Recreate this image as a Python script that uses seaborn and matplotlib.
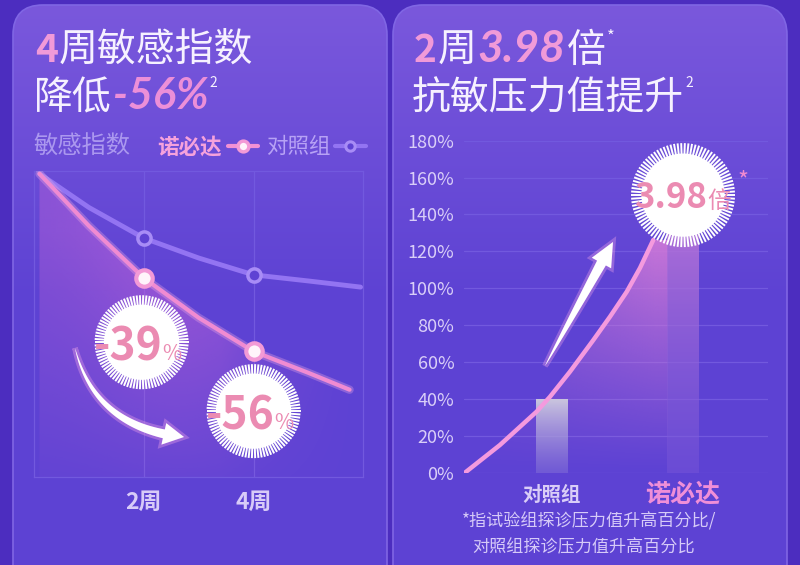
import numpy as np
import pandas as pd
import matplotlib
matplotlib.use("Agg")
import matplotlib.pyplot as plt
import seaborn as sns
from matplotlib.patches import FancyBboxPatch, Circle, Polygon
from matplotlib.collections import LineCollection
from matplotlib.colors import to_rgb

# 左图：敏感指数（读图估计，0-100 指数）
weeks_nbd = [0.1, 1, 2, 3, 4, 5, 5.75]
index_nbd = [99, 82, 65, 52, 41, 34, 28.5]
weeks_ctrl = [0.1, 1, 2, 3, 4, 5, 5.95]
index_ctrl = [99, 88, 78, 71.5, 66, 64, 62]
marker_weeks = [2, 4]
week_ticks = [2, 4]
week_labels = ["2周", "4周"]
drop_labels = ["-39", "-56"]
drop_pos = [(1.96, 44), (4.0, 21.5)]

# 右图：抗敏压力值提升
groups = ["对照组", "诺必达"]
rise_pct = [40, 159]
trend_x = [-0.658, -0.392, -0.113, -0.011, 0.141, 0.318, 0.445, 0.572, 0.673, 0.774]
trend_y = [0, 15, 33.1, 41.2, 54.8, 71.9, 84.6, 98.1, 111, 126.2]
pct_ticks = list(range(0, 181, 20))

sns.set_theme(style="white")
plt.rcParams['font.family'] = ['Noto Sans CJK SC', 'DejaVu Sans']

W, H = 800, 565
fig = plt.figure(figsize=(W / 100, H / 100), dpi=100)
fig.patch.set_facecolor('#4c2dbf')

bg = fig.add_axes([0, 0, 1, 1], zorder=0)
bg.set_xlim(0, W); bg.set_ylim(H, 0); bg.axis('off')

ov = fig.add_axes([0, 0, 1, 1], zorder=10)
ov.set_xlim(0, W); ov.set_ylim(H, 0); ov.axis('off')
ov.patch.set_alpha(0)


def px_axes(x0, y0, x1, y1, z):
    a = fig.add_axes([x0 / W, 1 - y1 / H, (x1 - x0) / W, (y1 - y0) / H], zorder=z)
    a.patch.set_alpha(0)
    return a


def vgrad(top, bottom, a_top, a_bot, n=200):
    t = np.linspace(0, 1, n)[:, None]
    img = np.zeros((n, 1, 4))
    img[..., :3] = (1 - t)[..., None] * np.array(to_rgb(top)) + t[..., None] * np.array(to_rgb(bottom))
    img[..., 3] = (1 - t) * a_top + t * a_bot
    return img


# 背景面板
for x0, x1 in [(13, 387), (393, 787)]:
    box = FancyBboxPatch((x0, 5), x1 - x0, 640, boxstyle="round,pad=0,rounding_size=30",
                         facecolor='none', edgecolor='#8066e4', lw=1.2, zorder=2)
    bg.add_patch(box)
    g = vgrad('#7a58dc', '#5d42d3', 1, 1)
    im = bg.imshow(g, extent=(x0, x1, 300, 5), origin='upper', aspect='auto', zorder=1)
    im.set_clip_path(box)
    low = FancyBboxPatch((x0, 5), x1 - x0, 640, boxstyle="round,pad=0,rounding_size=30",
                         facecolor='#5d42d3', edgecolor='none', zorder=0.5)
    bg.add_patch(low)
bg.set_xlim(0, W); bg.set_ylim(H, 0)

# ---------------- 左图 ----------------
axl = px_axes(34, 170.7, 363.3, 477, 2)
axl.set_xlim(0, 6); axl.set_ylim(0, 100)
for s in axl.spines.values():
    s.set_color('#7259de'); s.set_linewidth(0.9)
for xv in week_ticks:
    axl.axvline(xv, color='#7259de', lw=0.9, zorder=0)

gx = np.linspace(0, 6, 300); gy = np.linspace(0, 100, 200)
GX, GY = np.meshgrid(gx, gy)
hx = np.clip(0.55 + 0.45 * np.exp(-((GX - 2.6) / 1.6) ** 2), 0, 1) * np.clip((5.9 - GX) / 2.5, 0, 1)
alpha = 0.75 * hx * np.clip(0.15 + 0.85 * GY / 80, 0, 1)
img = np.zeros((200, 300, 4)); img[..., :3] = to_rgb('#b861d8'); img[..., 3] = alpha
im = axl.imshow(img, extent=(0, 6, 0, 100), origin='lower', aspect='auto', zorder=1)
clip = Polygon(list(zip(weeks_nbd, index_nbd)) + [(weeks_nbd[-1], 0), (weeks_nbd[0], 0)],
               closed=True, transform=axl.transData, facecolor='none', edgecolor='none')
axl.add_patch(clip); im.set_clip_path(clip)

df_nbd = pd.DataFrame({'week': weeks_nbd, 'index': index_nbd})
df_ctrl = pd.DataFrame({'week': weeks_ctrl, 'index': index_ctrl})
sns.lineplot(data=df_ctrl, x='week', y='index', color='#9374f2', lw=3.5, ax=axl, zorder=3)
sns.lineplot(data=df_nbd, x='week', y='index', color='#f7b0e4', lw=6, alpha=0.3, ax=axl, zorder=3)
sns.lineplot(data=df_nbd, x='week', y='index', color='#f08bd2', lw=3, ax=axl, zorder=4)
sns.scatterplot(data=df_ctrl[df_ctrl.week.isin(marker_weeks)], x='week', y='index', s=90,
                color='#5f42d3', edgecolor='#a88cf6', linewidth=2.5, ax=axl, zorder=5)
sns.scatterplot(data=df_nbd[df_nbd.week.isin(marker_weeks)], x='week', y='index', s=140,
                color='#fff4fb', edgecolor='#f39ad6', linewidth=3, ax=axl, zorder=5)
axl.set_xlim(0, 6); axl.set_ylim(0, 100)
axl.set_xticks(week_ticks, week_labels)
axl.set_yticks([])
axl.set_xlabel(''); axl.set_ylabel('')
axl.tick_params(axis='x', length=0, pad=18, labelsize=16.5, labelcolor='#d8cbf8')
for t in axl.get_xticklabels():
    t.set_fontweight('bold'); t.set_va('center')

# ---------------- 右图 ----------------
axr = px_axes(464, 140.7, 768, 472.7, 2)
sns.barplot(x=groups, y=rise_pct, width=0.236, ax=axr, color='#cccccc', zorder=3)
axr.set_xlim(-0.665, 1.646); axr.set_ylim(0, 180)
for s in axr.spines.values():
    s.set_visible(False)
axr.set_yticks(pct_ticks, [f"{v}%" for v in pct_ticks])
axr.yaxis.grid(True, color='#7259de', lw=0.9)
axr.set_axisbelow(True)
axr.tick_params(axis='y', length=0, pad=7, labelsize=13, labelcolor='#d9cef8')
for t in axr.get_yticklabels():
    t.set_fontweight('light')
axr.tick_params(axis='x', length=0, pad=16)
xl = axr.get_xticklabels()
for t, c, fs in zip(xl, ['#d9cdf7', '#f08fd8'], [14, 18]):
    t.set_color(c); t.set_fontsize(fs); t.set_fontweight('bold'); t.set_va('center')

bar_styles = [('#cbc6df', '#8f7dd9', 1.0, 0.4), ('#c47ad8', '#7b58d9', 0.95, 0.45)]
for p, (ct, cb, at, ab) in zip(axr.patches, bar_styles):
    x, y = p.get_x(), p.get_y()
    w, h = p.get_width(), p.get_height()
    gimg = axr.imshow(vgrad(ct, cb, at, ab), extent=(x, x + w, y, y + h), origin='upper',
                      aspect='auto', zorder=3)
    gimg.set_clip_path(p)
    p.set_facecolor('none'); p.set_edgecolor('none')

# 趋势线下方渐变
gx = np.linspace(-0.665, 1.0, 300); gy = np.linspace(0, 130, 200)
GX, GY = np.meshgrid(gx, gy)
alpha = np.clip(GY / 126, 0, 1) ** 1.1 * 0.9 * np.clip(0.4 + 0.6 * (GX + 0.665) / 1.45, 0, 1)
img = np.zeros((200, 300, 4)); img[..., :3] = to_rgb('#d27ad8'); img[..., 3] = alpha
im = axr.imshow(img, extent=(-0.665, 1.0, 0, 130), origin='lower', aspect='auto', zorder=2)
edge_x = axr.patches[1].get_x()
clip = Polygon(list(zip(trend_x, trend_y)) + [(edge_x, trend_y[-1]), (edge_x, 0)],
               closed=True, transform=axr.transData, facecolor='none', edgecolor='none')
axr.add_patch(clip); im.set_clip_path(clip)
sns.lineplot(x=trend_x, y=trend_y, sort=False, color='#f49ade', lw=3.2, ax=axr, zorder=4)
axr.set_xlim(-0.665, 1.646); axr.set_ylim(0, 180)
axr.set_xlabel(''); axr.set_ylabel('')


def to_ov(ax, x, y):
    dx, dy = ax.transData.transform((x, y))
    return dx, H - dy


def badge(cx, cy, r, main, suffix, fs_main, fs_suf, shift, base):
    ov.add_patch(Circle((cx, cy), r * 0.80, facecolor='white', edgecolor='none', zorder=20))
    ang = np.linspace(0, 2 * np.pi, 90, endpoint=False)
    segs = [[(cx + r * 0.72 * np.cos(a), cy + r * 0.72 * np.sin(a)),
             (cx + r * np.cos(a), cy + r * np.sin(a))] for a in ang]
    ov.add_collection(LineCollection(segs, colors='white', linewidths=1.4, zorder=20))
    ov.text(cx + shift, cy + base, main, color='#eb8bb2', fontsize=fs_main, ha='right',
            va='baseline', fontweight='bold', zorder=21)
    ov.text(cx + shift, cy + base, suffix, color='#eb8bb2', fontsize=fs_suf, ha='left',
            va='baseline', fontweight='medium', zorder=21)


def taper_arrow(pts, w_max, head_w, head_len, z=15):
    pts = np.asarray(pts, float)
    seg = np.diff(pts, axis=0)
    L = np.concatenate([[0], np.cumsum(np.hypot(seg[:, 0], seg[:, 1]))])
    total = L[-1]
    keep = L <= total - head_len
    body = pts[keep]; s = L[keep]
    d = np.gradient(body, axis=0)
    d /= np.hypot(d[:, 0], d[:, 1])[:, None]
    n = np.stack([-d[:, 1], d[:, 0]], axis=1)
    w = w_max * (s / s[-1]) ** 0.8 / 2
    left = body + n * w[:, None]; right = body - n * w[:, None]
    tip = pts[-1]; base = body[-1]; nb = n[-1]
    poly = np.vstack([left, [base + nb * head_w / 2, tip, base - nb * head_w / 2], right[::-1]])
    ov.add_patch(Polygon(poly, closed=True, facecolor='#f3a6ea', alpha=0.35, edgecolor='#f3a6ea',
                         lw=4, zorder=z))
    ov.add_patch(Polygon(poly, closed=True, facecolor='white', edgecolor='none', zorder=z + 1))


# 左图弯箭头
t = np.linspace(0, 1, 60)[:, None]
P0, P1, P2 = np.array([75, 348]), np.array([95, 428]), np.array([184, 437])
curve = (1 - t) ** 2 * P0 + 2 * (1 - t) * t * P1 + t ** 2 * P2
taper_arrow(curve, 9, 22, 20)
# 右图直箭头
line = np.array([545, 366]) + t * (np.array([613, 242]) - np.array([545, 366]))
taper_arrow(line, 10, 22, 22)

for (bx, by), lab in zip(drop_pos, drop_labels):
    cx, cy = to_ov(axl, bx, by)
    badge(cx, cy, 47, lab, "%", 32, 15, 21, 18)
cx, cy = to_ov(axr, 1.0, 150.5)
badge(cx, cy, 52, "3.98", "倍", 25, 17, 24, 13)
ov.text(cx + 54, cy - 14, "*", color='#f08ad0', fontsize=17, ha='left', va='center', zorder=21)

# 标题文字
renderer = fig.canvas.get_renderer()
ital = dict(family=['Lato', 'DejaVu Sans'], style='italic', fontweight='bold')


def run_text(x, y, runs):
    for s, color, size, dy, extra in runs:
        tt = ov.text(x, y + dy, s, color=color, fontsize=size, ha='left', va='baseline', **extra)
        x += tt.get_window_extent(renderer=renderer).width + 1
    return x


WHITE = '#f6f1ff'
PINK = '#f19ad8'
run_text(35, 62, [("4", PINK, 28, 0, dict(fontweight='bold')),
                  ("周敏感指数", WHITE, 28, 0, dict(fontweight='medium'))])
run_text(34, 109, [("降低", WHITE, 28, 0, dict(fontweight='medium')),
                   ("-56%", '#ec8fd8', 31, 0, ital),
                   ("2", WHITE, 10, -22, {})])
run_text(414, 62, [("2", PINK, 28, 0, dict(fontweight='bold')),
                   ("周", WHITE, 28, 0, dict(fontweight='medium')),
                   ("3.98", PINK, 32, 0, ital),
                   ("倍", WHITE, 28, 0, dict(fontweight='medium')),
                   ("*", WHITE, 12, -20, {})])
run_text(412, 109, [("抗敏压力值提升", WHITE, 28, 0, dict(fontweight='medium')),
                    ("2", WHITE, 10, -22, {})])

# 图例
ov.text(33, 147, "敏感指数", color='#ab98ef', fontsize=17.5, va='center', ha='left')
ov.text(157, 147, "诺必达", color='#f6a2dc', fontsize=15.5, va='center', ha='left', fontweight='bold')
ov.plot([228, 258], [146, 146], color='#f291d4', lw=3, zorder=12)
ov.scatter([243], [146], s=60, color='#fff4fb', edgecolor='#f39ad6', linewidth=2.5, zorder=13)
ov.text(266, 147, "对照组", color='#b7a2f5', fontsize=15.5, va='center', ha='left')
ov.plot([335, 366], [146, 146], color='#9374f2', lw=3, zorder=12)
ov.scatter([350], [146], s=45, color='#5f42d3', edgecolor='#a88cf6', linewidth=2.2, zorder=13)

# 注释
ov.text(589, 521, "*指试验组探诊压力值升高百分比/", color='#d6caf8', fontsize=12.3, ha='center', va='center')
ov.text(584, 547, "对照组探诊压力值升高百分比", color='#d6caf8', fontsize=12.3, ha='center', va='center')

fig.savefig("out.png", dpi=100, facecolor=fig.get_facecolor())
